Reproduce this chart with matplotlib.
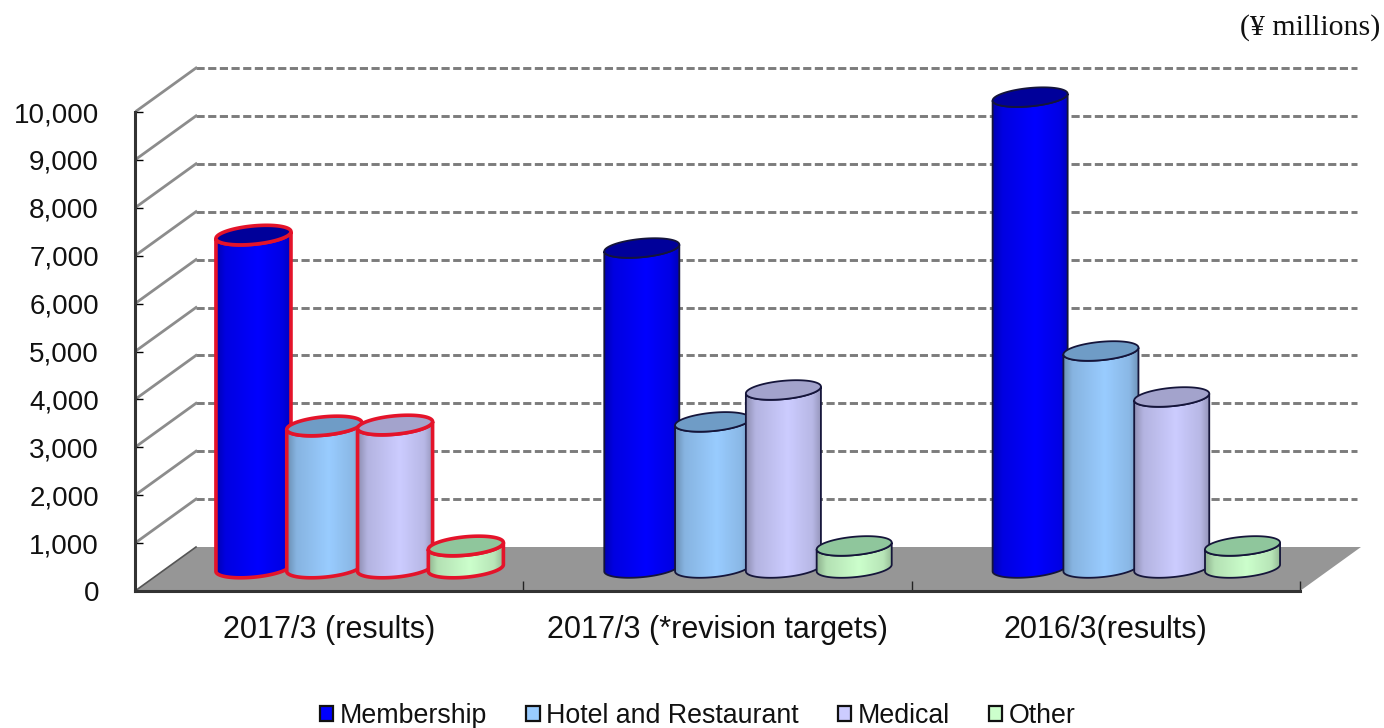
import numpy as np
import matplotlib
matplotlib.use('Agg')
from matplotlib import pyplot as plt
from matplotlib.patches import Patch, Polygon

plt.rcParams['font.family'] = ['Liberation Sans', 'DejaVu Sans']

categories = ['2017/3 (results)', '2017/3 (*revision targets)', '2016/3(results)']
series_names = ['Membership', 'Hotel and Restaurant', 'Medical', 'Other']
membership = [6950, 6680, 9830]
hotel = [2965, 3050, 4530]
medical = [2985, 3716, 3570]
other = [460, 460, 460]
y_ticks = [0, 1000, 2000, 3000, 4000, 5000, 6000, 7000, 8000, 9000, 10000]

body_colors = ['#0000ff', '#99ccff', '#ccccff', '#ccffcc']
top_colors = ['#00009a', '#6f9cc6', '#a3a3cc', '#8fc69c']
edge_dark = '#15153a'
edge_red = '#e4132a'

# pixel scale of the plot: one category wide, one thousand high
PX_X = 388.33
PX_Y = 47.9 / 1000
Y0 = 591
DEPTH_X = 61 / PX_X
DEPTH_Y = 44 / PX_Y
X_MAX = (1380 - 135) / PX_X
Y_MAX = (Y0 - 60) / PX_Y

BAR_SKEW = 13 / PX_X
BAR_A = 35.2 / PX_X
BAR_B = 9.8 / PX_Y
BAR_STEP = 70.8 / PX_X


def ellipse_points(cx, cy, t):
    x = cx + BAR_A * np.cos(t) + BAR_SKEW * np.sin(t)
    y = cy + BAR_B * np.sin(t)
    return np.column_stack([x, y])


def draw_cylinder(ax, cx, base, value, color, top_color, edge, lw, z):
    t_right = np.arctan2(BAR_SKEW, BAR_A)
    lower = np.linspace(t_right - np.pi, t_right, 60)
    bottom_arc = ellipse_points(cx, base, lower)
    top_arc = ellipse_points(cx, base + value, lower[::-1])
    body = Polygon(np.vstack([bottom_arc, top_arc]), closed=True, facecolor='none',
                   edgecolor='none', zorder=z)
    ax.add_patch(body)

    # horizontal shading across the tube
    half = np.hypot(BAR_A, BAR_SKEW)
    shade = np.interp(np.linspace(0, 1, 80), [0, 0.12, 0.55, 0.88, 1], [0.70, 0.88, 1.0, 0.9, 0.72])
    rgb = np.array(matplotlib.colors.to_rgb(color))
    img = (rgb[None, None, :] * shade[None, :, None]).clip(0, 1)
    im = ax.imshow(img, extent=(cx - half, cx + half, base - BAR_B * 1.5, base + value + BAR_B * 1.5),
                   aspect='auto', zorder=z + 0.1, interpolation='bilinear')
    im.set_clip_path(body)

    outline = Polygon(np.vstack([bottom_arc, top_arc]), closed=True, facecolor='none',
                      edgecolor=edge, linewidth=lw, zorder=z + 0.2)
    ax.add_patch(outline)
    top = Polygon(ellipse_points(cx, base + value, np.linspace(0, 2 * np.pi, 120)), closed=True,
                  facecolor=top_color, edgecolor=edge, linewidth=lw, zorder=z + 0.3)
    ax.add_patch(top)


fig = plt.figure(figsize=(13.84, 7.28), dpi=100)
ax = fig.add_axes([135 / 1384, (728 - Y0) / 728, (1380 - 135) / 1384, (Y0 - 60) / 728])

# floor and back wall
floor = Polygon([(0, 0), (3, 0), (3 + DEPTH_X, DEPTH_Y), (DEPTH_X, DEPTH_Y)], closed=True,
                facecolor='#969696', edgecolor='none', zorder=1)
ax.add_patch(floor)
for v in y_ticks[1:]:
    ax.plot([DEPTH_X, 3 + DEPTH_X - 0.01], [v + DEPTH_Y, v + DEPTH_Y], color='#7c7c7c', lw=2.1,
            linestyle=(0, (2.8, 1.2)), zorder=1.5)
    ax.plot([0, DEPTH_X], [v, v + DEPTH_Y], color='#8c8c8c', lw=2.0, zorder=1.5)
ax.plot([0, DEPTH_X], [0, DEPTH_Y], color='#555555', lw=1.2, zorder=1.6)

all_series = [membership, hotel, medical, other]
z = 3
for i in range(len(categories)):
    edge = edge_red if i == 0 else edge_dark
    lw = 2.6 if i == 0 else 1.3
    for j, values in enumerate(all_series):
        cx = i + 0.5 + DEPTH_X / 2 + (j - 1.5) * BAR_STEP
        draw_cylinder(ax, cx, 23 / PX_Y, values[i], body_colors[j], top_colors[j], edge, lw, z)
        z += 1

ax.set_xlim(0, X_MAX)
ax.set_ylim(0, Y_MAX)
ax.patch.set_visible(False)
for side in ['top', 'right']:
    ax.spines[side].set_visible(False)
ax.spines['left'].set_bounds(0, 10000)
ax.spines['bottom'].set_bounds(0, 3)
for side in ['left', 'bottom']:
    ax.spines[side].set_linewidth(2.2)
    ax.spines[side].set_color('#333333')
    ax.spines[side].set_zorder(200)

ax.set_yticks(y_ticks)
ax.set_yticklabels([f'{v:,}' for v in y_ticks], fontsize=20, color='#111111')
ax.tick_params(axis='y', direction='in', length=6, width=1, pad=26)
ax.set_xticks([0, 1, 2, 3])
ax.set_xticklabels([])
ax.tick_params(axis='x', direction='in', length=7, width=1, color='#222222')
ax.set_xticks([0.5, 1.5, 2.5], minor=True)
ax.set_xticklabels(categories, minor=True, fontsize=22, color='#111111')
ax.tick_params(axis='x', which='minor', length=0, pad=17)

fig.text(1380 / 1384, 1 - 28 / 728, '(\u00a5 millions)', ha='right', va='center', fontsize=21.5,
         family=['Liberation Serif', 'DejaVu Serif'], color='#111111')

handles = [Patch(facecolor=c, edgecolor='#111111', linewidth=1.6) for c in body_colors]
fig.legend(handles, series_names, loc='lower center', bbox_to_anchor=(698 / 1384, -0.005), ncol=4,
           frameon=False, fontsize=19.3, handlelength=0.5, handleheight=0.5, handletextpad=0.25,
           columnspacing=1.45, labelcolor='#111111', borderpad=0.1, borderaxespad=0)

fig.savefig('out.png', dpi=100)
